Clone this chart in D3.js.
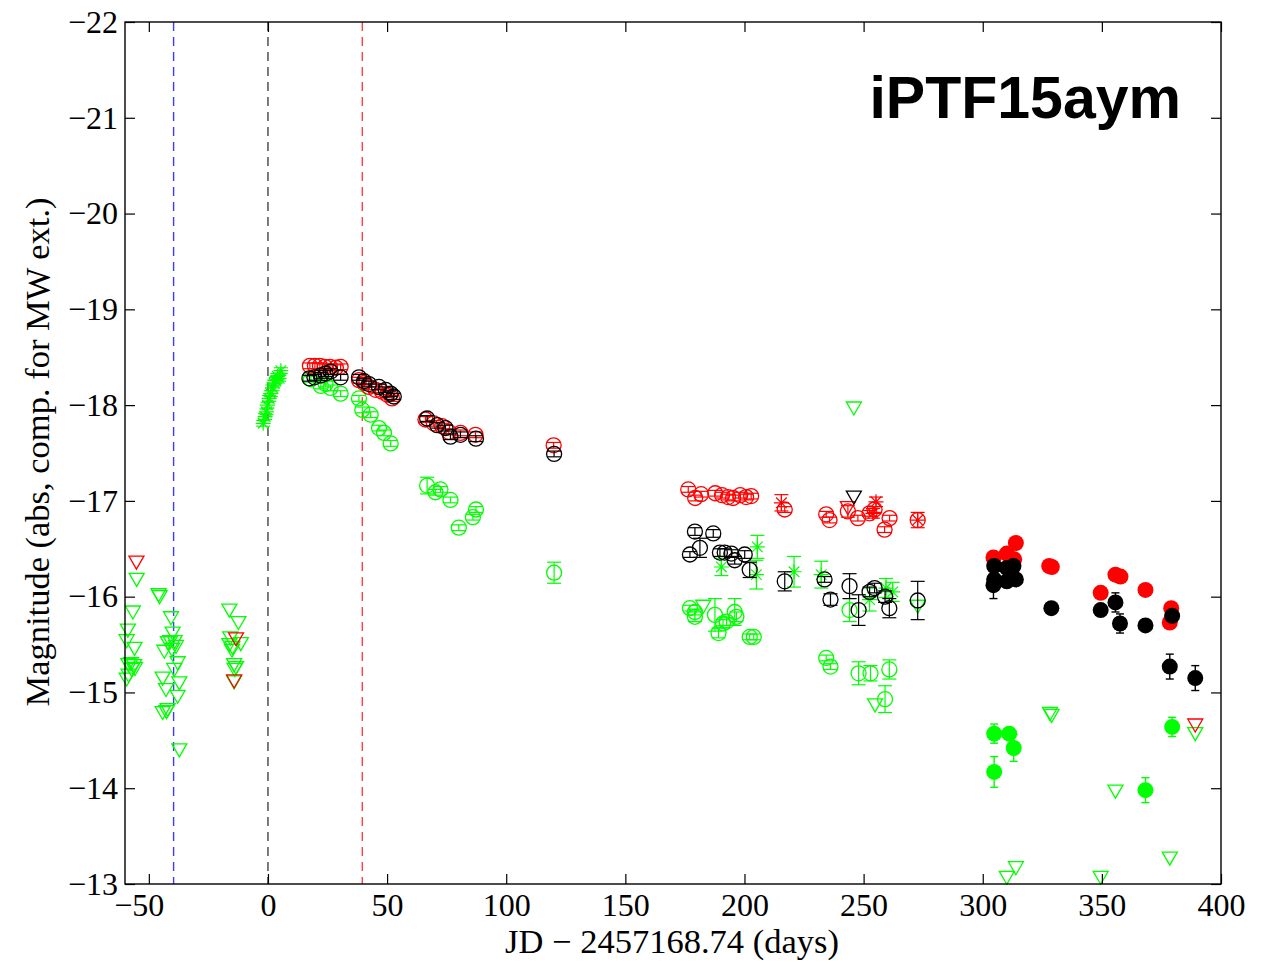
<!DOCTYPE html>
<html><head><meta charset="utf-8">
<script src="https://cdn.jsdelivr.net/npm/d3@7"></script>
<style>body{margin:0;background:#fff}svg{display:block}</style>
</head><body><svg id="c" width="1272" height="964"></svg>
<script>
// ---- data: [day, magnitude, error] ----
const title = "iPTF15aym";
const xTicks = [-50, 0, 50, 100, 150, 200, 250, 300, 350, 400];
const yTicks = [-22, -21, -20, -19, -18, -17, -16, -15, -14, -13];
const vLines = [[-39.6, "#3c3cff"], [0, "#444"], [39.6, "#ff4040"]];

const greenCircles = [
 [18,-18.27,.03],[22.2,-18.20,.03],[24.2,-18.22,.03],[26.3,-18.18,.03],[30.5,-18.12,.03],
 [38.2,-18.07,.03],[39.6,-17.95,.03],[43.1,-17.90,.03],[46.6,-17.76,.03],[48.7,-17.71,.03],[51.5,-17.60,.03],
 [66.8,-17.16,.087],[70.3,-17.09,.03],[72.4,-17.12,.03],[76.6,-17.01,.03],[80.1,-16.72,.03],[86.0,-16.83,.03],[87.3,-16.91,.03],
 [120.1,-16.25,.11],
 [177.1,-15.88,.03],[179.2,-15.84,.03],[179.2,-15.79,.05],[187.6,-15.81,.17],[189.1,-15.62,.05],[191.0,-15.72,.04],
 [192.5,-15.74,.04],[195.9,-15.84,.14],[196.6,-15.79,.05],[202.2,-15.58,.03],[203.9,-15.58,.03],
 [234.3,-15.36,.03],[236.1,-15.27,.03],[244.1,-15.86,.12],[247.9,-15.20,.12],[252.9,-15.20,.08],[260.8,-15.24,.1],[259.0,-14.93,.14]
];
const redCircles = [
 [17.6,-18.41,.03],[19.7,-18.41,.03],[21.8,-18.41,.03],[23.9,-18.40,.03],[26.0,-18.40,.03],[28.5,-18.39,.03],[30.5,-18.40,.03],
 [38.2,-18.26,.03],[40.3,-18.23,.03],[42.4,-18.19,.03],[45.2,-18.16,.03],[47.9,-18.14,.03],[50.0,-18.11,.03],[52.1,-18.07,.03],
 [66.1,-17.85,.03],[69.6,-17.81,.03],[73.1,-17.78,.03],[75.9,-17.72,.03],[80.8,-17.71,.03],[87.1,-17.69,.03],
 [119.9,-17.58,.03],
 [176.4,-17.12,.03],[179.3,-17.03,.03],[181.8,-17.07,.03],[187.7,-17.08,.03],[190.6,-17.06,.03],[193.1,-17.04,.03],
 [195.2,-17.03,.03],[198.2,-17.06,.03],[200.7,-17.04,.03],[202.8,-17.05,.03],
 [216.9,-16.91,.03],
 [234.3,-16.86,.03],[235.7,-16.80,.03],[243.4,-16.89,.06],[247.6,-16.82,.03],[252.5,-16.87,.03],[254.6,-16.91,.03],
 [260.9,-16.82,.03],[258.8,-16.70,.03],[272.7,-16.80,.08]
];
const blackCircles = [
 [17.4,-18.28,.03],[19.5,-18.29,.03],[22.2,-18.31,.03],[24.2,-18.33,.03],[26.3,-18.35,.03],[30.5,-18.29,.03],
 [38.2,-18.29,.03],[40.3,-18.25,.03],[42.4,-18.22,.03],[46.6,-18.19,.03],[49.4,-18.16,.03],[51.5,-18.12,.03],[52.8,-18.09,.03],
 [66.8,-17.86,.03],[71.0,-17.79,.03],[74.5,-17.76,.03],[76.6,-17.67,.03],[80.8,-17.69,.03],[87.3,-17.65,.03],
 [120.1,-17.49,.03],
 [179.2,-16.68,.04],[186.9,-16.66,.04],[177.1,-16.44,.03],[181.3,-16.51,.1],[189.7,-16.46,.04],[191.7,-16.46,.04],
 [194.5,-16.45,.04],[195.9,-16.38,.04],[200.1,-16.44,.04],[202.2,-16.28,.08],[216.9,-16.16,.1],
 [233.6,-16.18,.03],[236.1,-15.97,.06],[244.1,-16.11,.13],[247.9,-15.86,.16],[252.5,-16.05,.05],[254.6,-16.09,.05],
 [259.0,-16.0,.06],[260.8,-15.88,.1],[272.7,-15.96,.2]
];
const greenStars = [
 [-2.0,-17.81,.03],[-1.2,-17.88,.03],[-0.6,-17.93,.03],[-0.2,-18.0,.03],[0.5,-18.07,.03],[1.2,-18.12,.03],
 [1.9,-18.18,.03],[2.6,-18.23,.03],[3.3,-18.26,.03],[4.0,-18.30,.03],[4.7,-18.28,.03],[5.4,-18.36,.03],
 [190.3,-16.31,.09],[205.4,-16.52,.12],[205.0,-16.23,.15],[220.8,-16.26,.16],[232.2,-16.23,.14],
 [252.5,-15.97,.12],[259.4,-16.09,.1],[262.2,-16.05,.1]
];
const redStars = [[215.5,-16.98,.085],[255.2,-16.99,.05],[253.9,-16.87,.05],[272.7,-16.80,.0]];
const greenLimits = [
 [-55.1,-16.18],[-45.9,-16.02],[-45.5,-16.0],[-56.7,-15.84],[-58.8,-15.65],[-59.3,-15.54],[-56.0,-15.46],
 [-58.6,-15.29],[-57.5,-15.30],[-56.2,-15.28],[-57.2,-15.24],[-55.8,-15.25],[-58.5,-15.18],[-59.3,-15.14],
 [-40.7,-15.78],[-40.0,-15.62],[-41.0,-15.53],[-39.2,-15.53],[-42.0,-15.52],[-38.6,-15.48],[-43.5,-15.43],
 [-40.3,-15.45],[-37.9,-15.31],[-39.3,-15.24],[-44.2,-15.15],[-37.2,-15.10],[-42.8,-15.03],[-37.9,-14.96],
 [-42.1,-14.82],[-44.2,-14.79],[-42.6,-14.80],[-37.2,-14.40],
 [-16.2,-15.86],[-12.4,-15.73],[-15.8,-15.57],[-11.4,-15.51],[-16.2,-15.50],[-14.9,-15.47],[-15.1,-15.44],
 [-14.2,-15.29],[-13.4,-15.26],[-14.0,-15.24],[-14.2,-15.11],
 [182.7,-15.9],[245.9,-17.97],[254.8,-14.87],[272.7,-15.90],[328.2,-14.78],[328.9,-14.76],
 [355.7,-13.97],[378.5,-13.27],[313.9,-13.17],[310.1,-13.07],[349.5,-13.07],[389.2,-14.57]
];
const redLimits = [[-55.2,-16.36],[-13.4,-15.56],[-14.2,-15.12],[243.4,-16.93],[389.2,-14.66]];
const blackLimits = [[245.9,-17.04]];
const greenDots = [[304.8,-14.57,.1],[311.1,-14.57,.05],[313.0,-14.42,.14],[304.8,-14.17,.16],[368.3,-13.98,.13],[379.5,-14.64,.1]];
const redDots = [[304.5,-16.41,0],[310.1,-16.45,0],[313.2,-16.39,0],[313.9,-16.56,0],[327.9,-16.32,0],[329.0,-16.31,0],
 [349.5,-16.04,0],[355.7,-16.23,0],[357.8,-16.21,0],[368.3,-16.07,0],[379.1,-15.88,0],[378.5,-15.73,0]];
const blackDots = [[304.8,-16.32,.03],[304.8,-16.18,.03],[304.5,-16.12,.14],[310.1,-16.30,.03],[310.1,-16.16,.03],
 [312.9,-16.32,.03],[313.9,-16.18,.03],[328.8,-15.88,.04],[349.5,-15.86,.03],[355.7,-15.94,.1],[357.6,-15.72,.1],
 [368.3,-15.70,.03],[379.5,-15.80,.03],[378.5,-15.27,.13],[389.2,-15.15,.13]];

// ---- drawing ----
const G = "#00ff00", R = "#ff0000", K = "#000000";
const svg = d3.select("#c");
const L = 125, Rt = 1221, T = 22, B = 884;
const x = d3.scaleLinear().domain([-60, 400]).range([L, Rt]);
const y = d3.scaleLinear().domain([-22, -13]).range([T, B]);

const serif = "'Liberation Serif','Times New Roman',serif";

// dashed lines
svg.append("g").selectAll("line").data(vLines).join("line")
  .attr("x1", d => x(d[0])).attr("x2", d => x(d[0])).attr("y1", T).attr("y2", B)
  .attr("stroke", d => d[1]).attr("stroke-width", 1.4).attr("stroke-dasharray", "9,6");

const plot = svg.append("g");
function errbars(data, color, cap, sw) {
  const g = plot.append("g").attr("stroke", color).attr("stroke-width", sw || 1.2).attr("fill", "none");
  data.filter(d => d[2] > 0).forEach(d => {
    const y1 = y(d[1] - d[2]), y2 = y(d[1] + d[2]), cx = x(d[0]);
    g.append("line").attr("x1", cx).attr("x2", cx).attr("y1", y1).attr("y2", y2);
    g.append("line").attr("x1", cx - cap).attr("x2", cx + cap).attr("y1", y1).attr("y2", y1);
    g.append("line").attr("x1", cx - cap).attr("x2", cx + cap).attr("y1", y2).attr("y2", y2);
  });
}
function circles(data, color) {
  errbars(data, color, 7);
  plot.append("g").selectAll("circle").data(data).join("circle")
    .attr("cx", d => x(d[0])).attr("cy", d => y(d[1])).attr("r", 7.5)
    .attr("fill", "none").attr("stroke", color).attr("stroke-width", 1.3);
}
function dots(data, color) {
  errbars(data, color, 4, 1.4);
  plot.append("g").selectAll("circle").data(data).join("circle")
    .attr("cx", d => x(d[0])).attr("cy", d => y(d[1])).attr("r", 8).attr("fill", color);
}
function stars(data, color) {
  errbars(data, color, 7);
  const a = 7.5, b = 5.3;
  plot.append("g").selectAll("path").data(data).join("path")
    .attr("d", d => {
      const cx = x(d[0]), cy = y(d[1]);
      return `M${cx - a},${cy}H${cx + a}M${cx},${cy - a}V${cy + a}M${cx - b},${cy - b}L${cx + b},${cy + b}M${cx - b},${cy + b}L${cx + b},${cy - b}`;
    })
    .attr("fill", "none").attr("stroke", color).attr("stroke-width", 1.2);
}
function limits(data, color) {
  plot.append("g").selectAll("path").data(data).join("path")
    .attr("d", d => {
      const cx = x(d[0]), cy = y(d[1]);
      return `M${cx - 7.5},${cy - 6}L${cx + 7.5},${cy - 6}L${cx},${cy + 7}Z`;
    })
    .attr("fill", "none").attr("stroke", color).attr("stroke-width", 1.3);
}

limits(greenLimits, G); circles(greenCircles, G); stars(greenStars, G); dots(greenDots, G);
limits(redLimits, R); circles(redCircles, R); stars(redStars, R); dots(redDots, R);
limits(blackLimits, K); circles(blackCircles, K); dots(blackDots, K);

// axes (inward ticks)
const fmt = d3.format("d");
function styleAxis(g) {
  g.select(".domain").remove();
  g.selectAll(".tick line").attr("stroke", "#000").attr("stroke-width", 1.2);
  g.selectAll("text").attr("font-family", serif).attr("font-size", 32).attr("fill", "#000");
}
svg.append("g").attr("transform", `translate(${L},0)`)
  .call(d3.axisLeft(y).tickValues(yTicks).tickFormat(fmt).tickSizeInner(-10).tickSizeOuter(0).tickPadding(7))
  .call(styleAxis);
svg.append("g").attr("transform", `translate(${Rt},0)`)
  .call(d3.axisRight(y).tickValues(yTicks).tickFormat("").tickSizeInner(-10).tickSizeOuter(0))
  .call(styleAxis);
const xAxisG = svg.append("g").attr("transform", `translate(0,${B})`)
  .call(d3.axisBottom(x).tickValues(xTicks).tickFormat(fmt).tickSizeInner(-10).tickSizeOuter(0).tickPadding(9))
  .call(styleAxis);
xAxisG.selectAll(".tick text").attr("dx", d => d < 0 ? -10 : 0);
svg.append("g").attr("transform", `translate(0,${T})`)
  .call(d3.axisTop(x).tickValues(xTicks).tickFormat("").tickSizeInner(-10).tickSizeOuter(0))
  .call(styleAxis);

svg.append("rect").attr("x", L).attr("y", T).attr("width", Rt - L).attr("height", B - T)
  .attr("fill", "none").attr("stroke", "#000").attr("stroke-width", 1.4);

svg.append("text").attr("x", 672).attr("y", 953).attr("text-anchor", "middle")
  .attr("font-family", serif).attr("font-size", 34.5).text("JD \u2212 2457168.74 (days)");
svg.append("text").attr("transform", `translate(49,452) rotate(-90)`).attr("text-anchor", "middle")
  .attr("font-family", serif).attr("font-size", 34.5).text("Magnitude (abs, comp. for MW ext.)");
svg.append("text").attr("x", 1181).attr("y", 118).attr("text-anchor", "end")
  .attr("font-family", "'Liberation Sans',Arial,sans-serif").attr("font-weight", "bold").attr("font-size", 59)
  .text(title);
</script></body></html>
